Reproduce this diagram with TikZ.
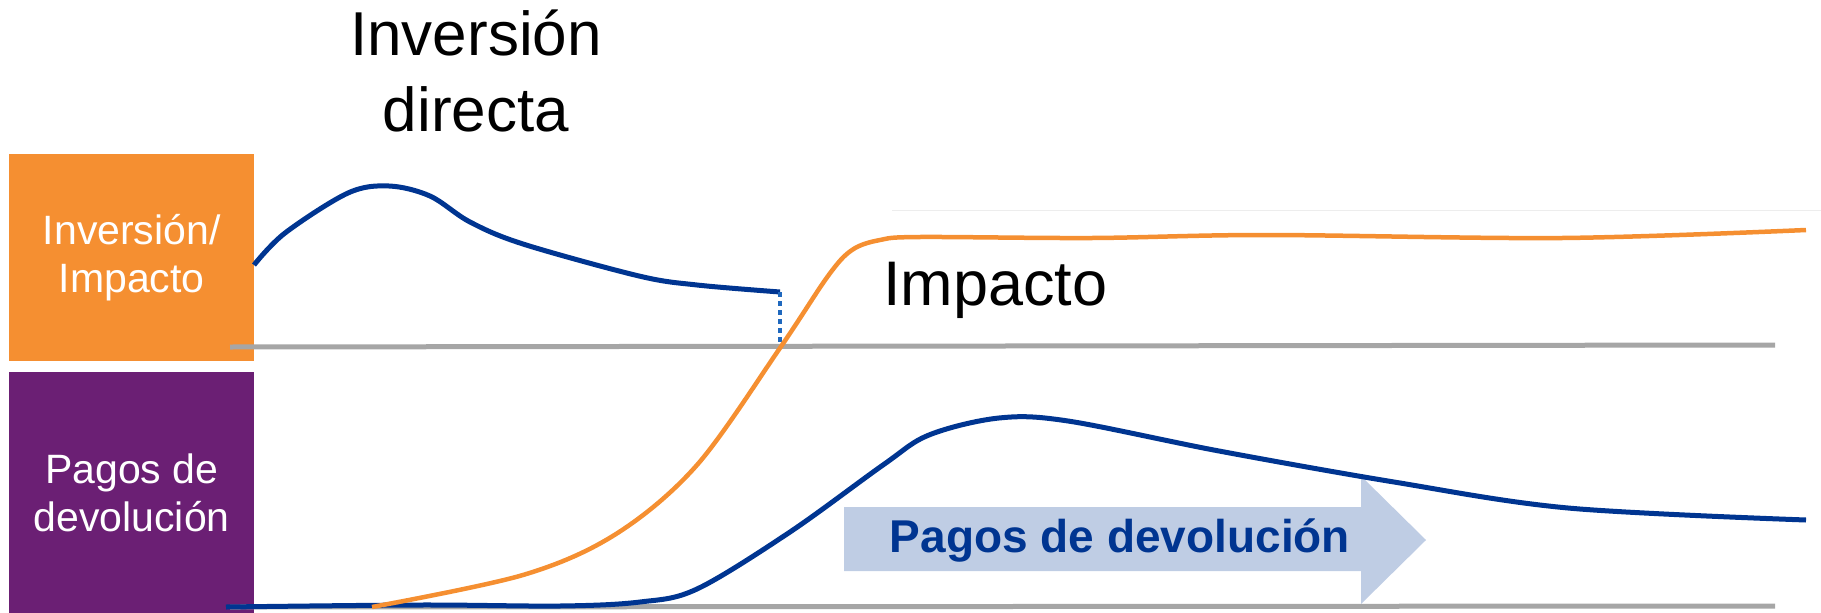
\documentclass[tikz,border=0pt]{standalone}
\usepackage{fontspec}
\setmainfont{Liberation Sans}
\definecolor{cOrange}{HTML}{F58F31}
\definecolor{cPurple}{HTML}{6B1F74}
\definecolor{cBlue}{HTML}{003591}
\definecolor{cDot}{HTML}{1F68BE}
\definecolor{cGray}{HTML}{A6A6A6}
\definecolor{cArrow}{HTML}{BFCDE4}
\begin{document}
\begin{tikzpicture}[x=1pt,y=-1pt,
  sidebox/.style={anchor=north west,inner sep=0pt,minimum width=245pt,text=white,align=center,font=\fontsize{41}{48}\selectfont},
  axis/.style={cGray,line width=5pt},
  curveblue/.style={cBlue,line width=5pt,line join=round},
  curveorange/.style={cOrange,line width=4.5pt,line join=round},
  bigtext/.style={inner sep=0pt,align=center,font=\fontsize{62}{76}\selectfont}]
\useasboundingbox (0,0) rectangle (1821,613);
% side boxes
\node[sidebox,fill=cOrange,minimum height=207pt] (boxA) at (9,154) {Inversión/\\Impacto};
\node[sidebox,fill=cPurple,minimum height=241pt] (boxB) at (9,372) {Pagos de\\devolución};
% faint line
\draw[black!7,line width=1pt] (892,210) -- (1821,210);
% axes
\coordinate (a1) at (230,347);
\coordinate (a2) at (1775,345);
\coordinate (b1) at (230,607);
\coordinate (b2) at (1775,606);
\draw[axis] (a1) -- (a2);
\draw[axis] (b1) -- (b2);
% arrow
\fill[cArrow] (844,507) -- (1361,507) -- (1361,476) -- (1426,540) -- (1361,604) -- (1361,571) -- (844,571) -- cycle;
\node[inner sep=0pt,text=cBlue,font=\fontsize{46}{50}\selectfont\bfseries] (arr) at (1120,540) {Pagos de devolución};
% blue investment curve
\draw[curveblue] plot[smooth,tension=0.55] coordinates {(254,265) (285,233) (348,193) (389,186) (430,196) (470,222) (523,244) (639,276) (697,285) (780,292)};
\coordinate (dtop) at (780,292);
\coordinate (dbot) at (780,346);
\draw[cDot,line width=4pt,dash pattern=on 5pt off 4pt] (dtop) -- (dbot);
% bottom blue curve
\draw[curveblue] plot[smooth,tension=0.55] coordinates {(226,607) (420,605) (560,606) (640,602) (697,589) (790,532) (883,465) (929,435) (999,418) (1068,421) (1219,451) (1394,482) (1568,508) (1806,520)};
% orange curve
\draw[curveorange] plot[smooth,tension=0.55] coordinates {(372,607) (523,575) (616,534) (697,465) (780,348) (828,276) (852,250) (880,240) (920,237) (1092,238) (1266,235) (1562,238) (1806,230)};
% labels
\node[bigtext] (title) at (476,71) {Inversión\\directa};
\node[inner sep=0pt,anchor=west,font=\fontsize{63}{70}\selectfont] (imp) at (883,290) {Impacto};
\end{tikzpicture}
\end{document}
